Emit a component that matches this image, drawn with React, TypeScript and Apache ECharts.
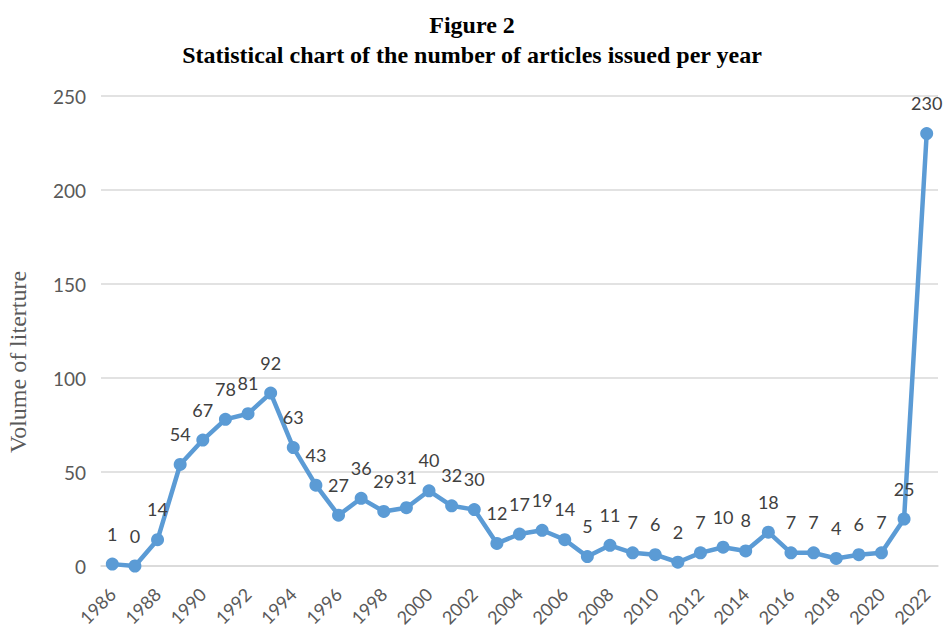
import React, { useEffect, useRef } from "react";
import * as echarts from "echarts";

const years: string[] = [
  "1986","1987","1988","1989","1990","1991","1992","1993","1994","1995",
  "1996","1997","1998","1999","2000","2001","2002","2003","2004","2005",
  "2006","2007","2008","2009","2010","2011","2012","2013","2014","2015",
  "2016","2017","2018","2019","2020","2021","2022",
];
const articles: number[] = [
  1, 0, 14, 54, 67, 78, 81, 92, 63, 43,
  27, 36, 29, 31, 40, 32, 30, 12, 17, 19,
  14, 5, 11, 7, 6, 2, 7, 10, 8, 18,
  7, 7, 4, 6, 7, 25, 230,
];
const yTicks = { min: 0, max: 250, step: 50 };
const titleLine1 = "Figure 2";
const titleLine2 = "Statistical chart of the number of articles issued per year";
const yAxisName = "Volume of literture";

export default function App() {
  const ref = useRef<HTMLDivElement>(null);
  useEffect(() => {
    if (!ref.current) return;
    const chart = echarts.init(ref.current, null, { renderer: "svg" });
    chart.setOption({
      animation: false,
      backgroundColor: "#ffffff",
      title: [
        {
          text: titleLine1,
          left: "center",
          top: 8,
          textStyle: { fontFamily: "Liberation Serif", fontWeight: "bold", fontSize: 24, color: "#000" },
        },
        {
          text: titleLine2,
          left: "center",
          top: 38,
          textStyle: { fontFamily: "Liberation Serif", fontWeight: "bold", fontSize: 24, color: "#000" },
        },
      ],
      graphic: [
        {
          type: "text",
          x: 18,
          y: 362,
          rotation: Math.PI / 2,
          style: {
            text: yAxisName,
            fontFamily: "Liberation Serif",
            fontSize: 24,
            fill: "#595959",
            align: "center",
            verticalAlign: "middle",
          },
        },
      ],
      grid: { left: 101, right: 6, top: 96, bottom: 62, containLabel: false, outerBoundsMode: "none" },
      xAxis: {
        type: "category",
        data: years,
        boundaryGap: true,
        axisLine: { show: true, lineStyle: { color: "#d9d9d9", width: 1.5 } },
        axisTick: { show: false },
        axisLabel: {
          interval: 1,
          rotate: 45,
          margin: 25,
          color: "#595959",
          fontSize: 18,
          fontFamily: "Lato",
        },
      },
      yAxis: {
        type: "value",
        min: yTicks.min,
        max: yTicks.max,
        interval: yTicks.step,
        axisLine: { show: false },
        axisTick: { show: false },
        axisLabel: { margin: 15, color: "#595959", fontSize: 19, fontFamily: "Lato" },
        splitLine: { lineStyle: { color: "#d9d9d9", width: 1.5 } },
      },
      series: [
        {
          type: "line",
          data: articles,
          symbol: "circle",
          symbolSize: 13,
          lineStyle: { color: "#5b9bd5", width: 4.5 },
          itemStyle: { color: "#5b9bd5" },
          label: {
            show: true,
            position: "top",
            distance: 15,
            color: "#404040",
            fontSize: 18,
            fontFamily: "Lato",
          },
        },
      ],
    });
    return () => chart.dispose();
  }, []);
  return (
    <div
      ref={ref}
      style={{ position: "fixed", left: 0, top: 0, width: 944, height: 628 }}
    />
  );
}
